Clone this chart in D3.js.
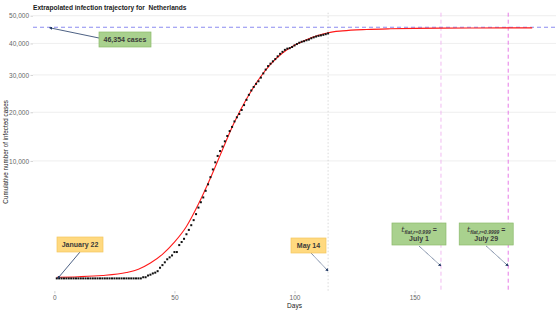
<!DOCTYPE html>
<html>
<head>
<meta charset="utf-8">
<script src="https://cdn.jsdelivr.net/npm/d3@7"></script>
<style>
  body { margin: 0; background: #fff; }
  text { font-family: "Liberation Sans", Arial, sans-serif; }
</style>
</head>
<body>
<svg id="chart"></svg>
<script>
// observed cumulative cases, day 1 = January 22
const observedCases = [
  0, 0, 0, 0, 0, 0, 0, 0, 0, 0,
  0, 0, 0, 0, 0, 0, 0, 0, 0, 0,
  0, 0, 0, 0, 0, 0, 0, 0, 0, 0,
  0, 0, 0, 0, 0, 0, 1, 1, 6, 10,
  18, 24, 38, 82, 128, 188, 265, 321, 382, 503,
  503, 804, 959, 1135, 1413, 1705, 2051, 2460, 2994, 3631,
  4204, 4749, 5560, 6412, 7431, 8603, 9762, 10866, 11750, 12595,
  13614, 14697, 15723, 16627, 17851, 18803, 19580, 20549, 21762, 23097,
  24413, 25587, 26551, 27419, 28153, 29214, 30449, 31589, 32655, 33405,
  34134, 34842, 35729, 36535, 37190, 37845, 38245, 38416, 38802, 39316,
  39791, 40236, 40571, 40770, 41087, 41319, 41774, 42093, 42382, 42627,
  42788, 42984, 43211, 43481
];

// fitted trajectory
const fitDays = [1, 10, 20, 30, 35, 40, 45, 50, 55, 60, 65, 70, 75, 80, 85, 90, 95, 100, 105, 110, 114, 120, 130, 140, 150, 161, 175, 189, 199];
const fitCases = [1, 2, 6, 25, 60, 170, 420, 950, 1950, 4000, 7300, 12000, 17700, 23300, 28600, 33200, 36800, 39400, 41300, 42800, 43750, 44400, 44900, 45150, 45300, 45400, 45450, 45480, 45490];

const plateau = 45700;
const lastDay = 114;
const flatDays = [161, 189];
const yTicks = [10000, 20000, 30000, 40000, 50000];
const xTicks = [0, 50, 100, 150];

const width = 560, height = 315;
const svg = d3.select('#chart').attr('width', width).attr('height', height);

const panel = { left: 33, right: 556, top: 12.7, bottom: 291 };

let x = d3.scaleLinear().domain([-8.9, 208.9]).range([panel.left, panel.right]);
let y = d3.scaleSqrt().domain([0, 50000]).range([278.4, 15.7]);

// grid
svg.append('g')
  .selectAll('line')
  .data(yTicks)
  .join('line')
  .attr('x1', panel.left)
  .attr('x2', panel.right)
  .attr('y1', (d) => y(d))
  .attr('y2', (d) => y(d))
  .attr('stroke', '#e6e6e6')
  .attr('stroke-width', 0.7);

// y axis
let yAxis = svg.append('g')
  .attr('transform', `translate(${panel.left},0)`)
  .call(d3.axisLeft(y).tickValues(yTicks).tickFormat(d3.format(',')).tickSize(2.5).tickPadding(1.5));
yAxis.select('.domain').remove();
yAxis.selectAll('line').attr('stroke', '#b3b3b3').attr('stroke-width', 0.6);
yAxis.selectAll('text').attr('fill', '#666').style('font-size', '6.5px');

// x axis
let xAxis = svg.append('g')
  .attr('transform', `translate(0,${panel.bottom})`)
  .call(d3.axisBottom(x).tickValues(xTicks).tickSize(2.5).tickPadding(1.5));
xAxis.select('.domain').remove();
xAxis.selectAll('line').attr('stroke', '#b3b3b3').attr('stroke-width', 0.6);
xAxis.selectAll('text').attr('fill', '#666').style('font-size', '6.5px');

// reference lines
svg.append('line')
  .attr('x1', x(lastDay)).attr('x2', x(lastDay))
  .attr('y1', panel.top).attr('y2', panel.bottom)
  .attr('stroke', '#d0d0d0')
  .attr('stroke-width', 0.8)
  .attr('stroke-dasharray', '1.5,2');

svg.append('g')
  .selectAll('line')
  .data(flatDays)
  .join('line')
  .attr('x1', (d) => x(d)).attr('x2', (d) => x(d))
  .attr('y1', panel.top).attr('y2', panel.bottom)
  .attr('stroke', (d, i) => (i == 0 ? '#efb3ef' : '#e36be3'))
  .attr('stroke-width', 0.9)
  .attr('stroke-dasharray', '4,3');

svg.append('line')
  .attr('x1', panel.left).attr('x2', panel.right)
  .attr('y1', y(plateau)).attr('y2', y(plateau))
  .attr('stroke', '#7f7fee')
  .attr('stroke-width', 0.9)
  .attr('stroke-dasharray', '4,3');

// fitted curve
let fitLine = d3.line()
  .x((d, i) => x(fitDays[i]))
  .y((d) => y(d))
  .curve(d3.curveMonotoneX);

svg.append('path')
  .attr('d', fitLine(fitCases))
  .attr('fill', 'none')
  .attr('stroke', '#ff1a1a')
  .attr('stroke-width', 1.1);

// observed points
svg.append('g')
  .selectAll('rect')
  .data(observedCases)
  .join('rect')
  .attr('x', (d, i) => x(i + 1) - 1)
  .attr('y', (d) => y(d) - 1)
  .attr('width', 2)
  .attr('height', 2)
  .attr('fill', '#111');

// titles
svg.append('text')
  .attr('x', panel.left)
  .attr('y', 10)
  .attr('fill', '#1a1a1a')
  .attr('xml:space', 'preserve')
  .style('white-space', 'pre')
  .style('font-size', '6.6px')
  .style('font-weight', 'bold')
  .text('Extrapolated infection trajectory for  Netherlands');

svg.append('text')
  .attr('transform', `translate(8,${(panel.top + panel.bottom) / 2}) rotate(-90)`)
  .attr('text-anchor', 'middle')
  .attr('fill', '#1a1a1a')
  .style('font-size', '6.3px')
  .text('Cumulative number of infected cases');

svg.append('text')
  .attr('x', (panel.left + panel.right) / 2)
  .attr('y', 307.5)
  .attr('text-anchor', 'middle')
  .attr('fill', '#1a1a1a')
  .style('font-size', '6.5px')
  .text('Days');

// callouts
svg.append('defs')
  .append('marker')
  .attr('id', 'arrow')
  .attr('viewBox', '0 0 6 6')
  .attr('refX', 5)
  .attr('refY', 3)
  .attr('markerWidth', 4)
  .attr('markerHeight', 4)
  .attr('orient', 'auto')
  .append('path')
  .attr('d', 'M0,0L6,3L0,6Z')
  .attr('fill', '#1f3864');

function arrow(x1, y1, x2, y2, dotted) {
  svg.append('line')
    .attr('x1', x1).attr('y1', y1)
    .attr('x2', x2).attr('y2', y2)
    .attr('stroke', '#1f3864')
    .attr('stroke-width', 0.8)
    .attr('stroke-dasharray', dotted ? '1,0.6' : null)
    .attr('marker-end', 'url(#arrow)');
}

function box(bx, by, bw, bh, fill, stroke) {
  svg.append('rect')
    .attr('x', bx).attr('y', by)
    .attr('width', bw).attr('height', bh)
    .attr('fill', fill)
    .attr('stroke', stroke)
    .attr('stroke-width', 0.7);
}

function boxText(tx, ty, label) {
  svg.append('text')
    .attr('x', tx).attr('y', ty)
    .attr('text-anchor', 'middle')
    .attr('fill', '#3a3a3a')
    .style('font-size', '7px')
    .style('font-weight', 'bold')
    .text(label);
}

const green = '#a9d18e', greenEdge = '#8cba6c';
const yellow = '#ffd97f', yellowEdge = '#f2c760';

arrow(99, 38, x(-2), y(plateau) + 0.5, false);
box(99, 32, 52, 15, green, greenEdge);
boxText(125, 42, '46,354 cases');

arrow(80, 252, x(1) + 1, y(0), false);
box(57, 237, 46, 15, yellow, yellowEdge);
boxText(80, 247, 'January 22');

arrow(311, 253, x(lastDay), 271, true);
box(291, 238, 35, 15, yellow, yellowEdge);
boxText(308.5, 248, 'May 14');

const flatLabels = [
  { r: '0.999', date: 'July 1' },
  { r: '0.9999', date: 'July 29' }
];
flatLabels.forEach((f, i) => {
  let cx = x(flatDays[i]) - 22;
  arrow(cx, 246, x(flatDays[i]), 266, true);
  box(cx - 27, 223, 54, 22, green, greenEdge);
  let t = svg.append('text')
    .attr('x', cx)
    .attr('y', 232)
    .attr('text-anchor', 'middle')
    .attr('fill', '#3a3a3a');
  t.append('tspan')
    .style('font-size', '8px')
    .style('font-style', 'italic')
    .style('font-family', '"DejaVu Serif", serif')
    .text('t');
  t.append('tspan')
    .attr('dy', 1.5)
    .style('font-size', '5px')
    .style('font-style', 'italic')
    .style('font-weight', 'bold')
    .text('flat,r=' + f.r);
  t.append('tspan')
    .attr('dy', -1.5)
    .style('font-size', '7px')
    .style('font-weight', 'bold')
    .text(' =');
  boxText(cx, 241, f.date);
});
</script>
</body>
</html>
